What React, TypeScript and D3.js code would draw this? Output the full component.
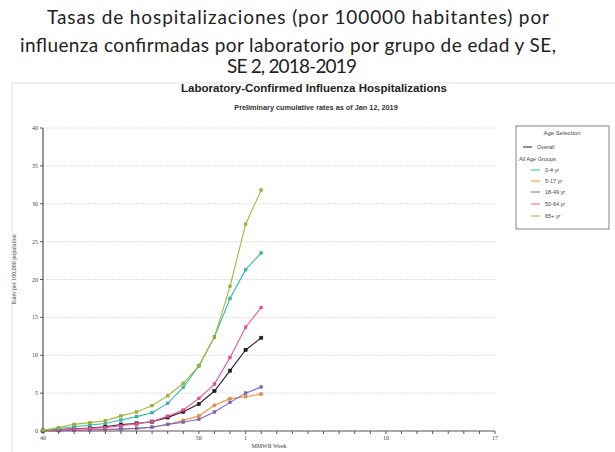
import React from "react";
import * as d3 from "d3";

const weeks = ["40","41","42","43","44","45","46","47","48","49","50","51","52","1","2"];
const axisWeeks = ["40","41","42","43","44","45","46","47","48","49","50","51","52","1","2","3","4","5","6","7","8","9","10","11","12","13","14","15","16","17"];
const tickLabelWeeks = ["40","50","1","10","17"];
const yTicks = [0,5,10,15,20,25,30,35,40];

const overall = [0.05,0.2,0.3,0.4,0.57,0.85,1.0,1.23,1.8,2.55,3.56,5.28,7.96,10.7,12.3];
const age0_4 = [0.1,0.3,0.57,0.8,1.0,1.45,1.9,2.42,3.65,5.77,8.6,12.4,17.5,21.3,23.5];
const age5_17 = [0.02,0.05,0.08,0.12,0.17,0.25,0.35,0.5,0.85,1.4,1.98,3.39,4.27,4.53,4.87];
const age18_49 = [0.02,0.05,0.1,0.14,0.2,0.27,0.35,0.5,0.88,1.15,1.54,2.5,3.78,5.0,5.8];
const age50_64 = [0.05,0.15,0.25,0.35,0.45,0.7,0.95,1.25,1.95,2.77,4.31,6.2,9.7,13.7,16.3];
const age65 = [0.1,0.45,0.88,1.1,1.36,2.0,2.5,3.35,4.66,6.3,8.6,12.4,19.1,27.3,31.8];

const seriesNames = ["Overall","0-4 yr","5-17 yr","18-49 yr","50-64 yr","65+ yr"];
const seriesData = [overall, age0_4, age5_17, age18_49, age50_64, age65];
const seriesColors = ["#222222","#35bba8","#f39038","#7766cc","#f2509a","#9ebb35"];
// draw order (back to front)
const drawOrder = [2,3,0,4,1,5];

const titleLines = [
  "Tasas de hospitalizaciones (por 100000 habitantes) por",
  "influenza confirmadas por laboratorio por grupo de edad y SE,",
  "SE 2, 2018-2019",
];

export default function App() {
  const W = 615, H = 452;
  const left = 43, right = 495, top = 128, bottom = 431;
  const x = d3.scalePoint<string>().domain(axisWeeks).range([left, right]);
  const y = d3.scaleLinear().domain([0, 40]).range([bottom, top]);
  const line = d3.line<number>().x((_, i) => x(weeks[i]) as number).y(d => y(d));

  const serif = "'Liberation Serif', 'DejaVu Serif', serif";
  const sans = "'Liberation Sans', Arial, sans-serif";
  const titleX = [47, 20, 227];
  const titleY = [24, 52, 73];
  const titleLen = [502, 536, 130];

  return (
    <svg width={W} height={H} style={{ position: "absolute", left: 0, top: 0, background: "#fff" }}>
      <rect x={0} y={0} width={W} height={H} fill="#fff" />
      {titleLines.map((t, i) => (
        <text key={i} x={titleX[i]} y={titleY[i]} textLength={titleLen[i]} lengthAdjust="spacing"
          fontFamily="Lato, 'Open Sans', sans-serif" fontSize={19} fill="#222">{t}</text>
      ))}
      <rect x={12} y={83} width={700} height={500} fill="none" stroke="#e2e2e2" strokeWidth={1} />
      <text x={314} y={92} textAnchor="middle" fontFamily={sans} fontWeight="bold" fontSize={11.5} fill="#222">Laboratory-Confirmed Influenza Hospitalizations</text>
      <text x={316} y={110} textAnchor="middle" fontFamily={sans} fontWeight="bold" fontSize={7.3} fill="#333">Preliminary cumulative rates as of Jan 12, 2019</text>

      {/* gridlines */}
      {yTicks.filter(v => v > 0).map(v => (
        <line key={v} x1={left} x2={right} y1={y(v)} y2={y(v)} stroke="#d8d8d8" strokeWidth={0.8} strokeDasharray="2,1" />
      ))}
      {/* y axis */}
      <line x1={left} x2={left} y1={top} y2={bottom} stroke="#555" strokeWidth={1.2} />
      {yTicks.map(v => (
        <g key={v}>
          <line x1={left - 3} x2={left} y1={y(v)} y2={y(v)} stroke="#555" strokeWidth={1} />
          <text x={left - 5} y={y(v) + 2} textAnchor="end" fontFamily={serif} fontSize={6} fill="#444">{v}</text>
        </g>
      ))}
      <text transform={`translate(16,${(top + bottom) / 2 - 10}) rotate(-90)`} textAnchor="middle" fontFamily={serif} fontSize={6} fill="#444">Rates per 100,000 population</text>

      {/* x axis */}
      <line x1={left} x2={right} y1={bottom} y2={bottom} stroke="#555" strokeWidth={1.2} />
      {axisWeeks.map(w => (
        <line key={w} x1={x(w)} x2={x(w)} y1={bottom} y2={bottom + 3} stroke="#555" strokeWidth={1} />
      ))}
      {tickLabelWeeks.map(w => (
        <text key={w} x={x(w)} y={bottom + 9} textAnchor="middle" fontFamily={serif} fontSize={6} fill="#444">{w}</text>
      ))}
      <text x={269} y={448} textAnchor="middle" fontFamily={serif} fontSize={6} fill="#444">MMWR Week</text>

      {/* series */}
      {drawOrder.map(si => (
        <g key={si}>
          <path d={line(seriesData[si]) || ""} fill="none" stroke={seriesColors[si]} strokeWidth={1.1} />
          {seriesData[si].map((v, i) => {
            const s = si === 0 ? 3.4 : 2.8;
            return (
              <rect key={i} x={(x(weeks[i]) as number) - s / 2} y={y(v) - s / 2} width={s} height={s}
                fill={seriesColors[si]} stroke={d3.color(seriesColors[si])!.darker(0.6).toString()} strokeWidth={0.4} />
            );
          })}
        </g>
      ))}

      {/* legend */}
      <rect x={516} y={126} width={93} height={103} fill="#fff" stroke="#666" strokeWidth={0.8} />
      <text x={562} y={135} textAnchor="middle" fontFamily={sans} fontSize={6} fill="#444">Age Selection</text>
      <line x1={523} x2={532} y1={147} y2={147} stroke={seriesColors[0]} strokeWidth={1} />
      <text x={537} y={149} fontFamily={sans} fontSize={5.5} fill="#444">{seriesNames[0]}</text>
      <text x={519} y={161} fontFamily={sans} fontSize={5.5} fill="#444">All Age Groups</text>
      {[1, 2, 3, 4, 5].map((si, k) => {
        const ly = [170, 181, 192, 204, 216][k];
        return (
          <g key={si}>
            <line x1={531} x2={540} y1={ly} y2={ly} stroke={seriesColors[si]} strokeWidth={1} />
            <text x={545} y={ly + 2} fontFamily={sans} fontSize={5.5} fill="#444">{seriesNames[si]}</text>
          </g>
        );
      })}
    </svg>
  );
}
